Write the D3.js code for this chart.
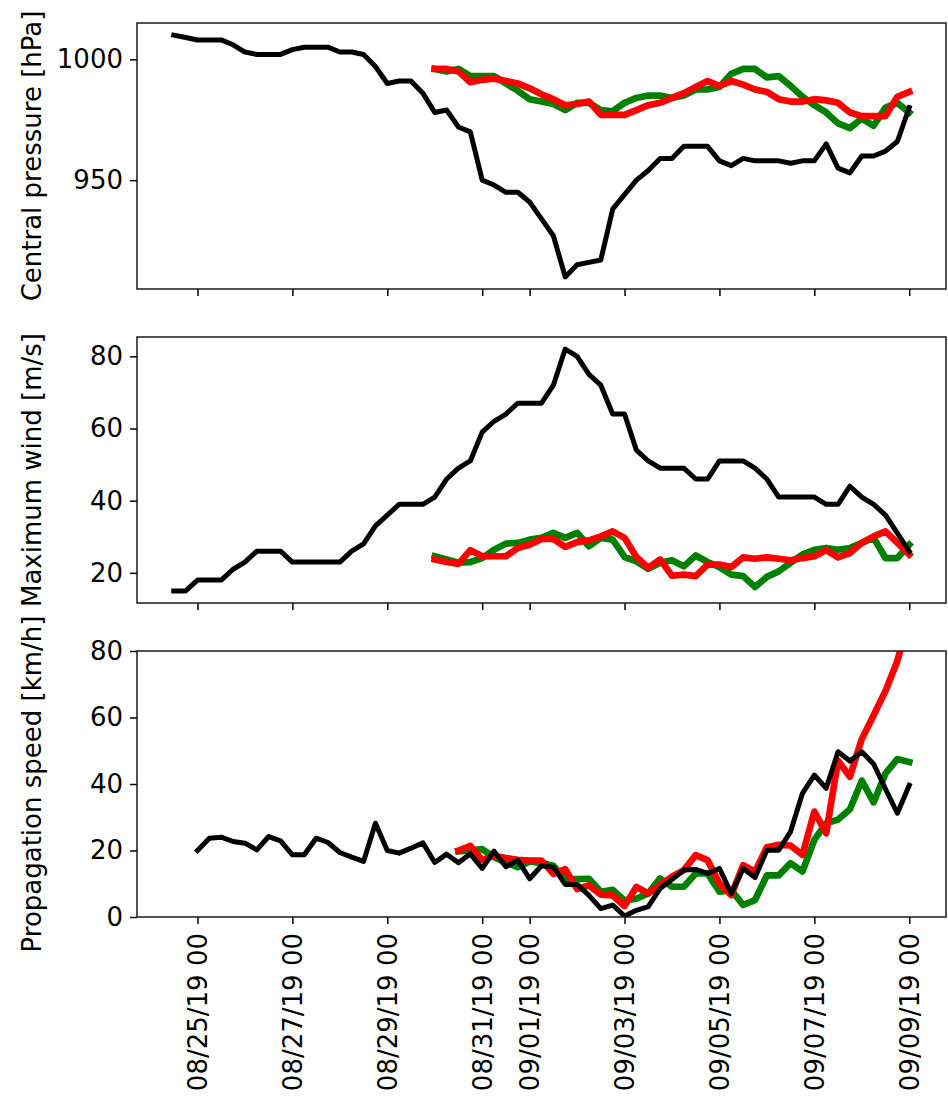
<!DOCTYPE html>
<html>
<head>
<meta charset="utf-8">
<script src="https://cdn.jsdelivr.net/npm/d3@7/dist/d3.min.js"></script>
<style>
  body { margin: 0; background: #fff; }
  text { font-family: "DejaVu Sans", sans-serif; }
</style>
</head>
<body>
<script>
// ---------------- data (6-hourly) ----------------
// observed track starts 08/24 12 UTC, both forecasts start 08/30 00 UTC
var obsStart = "2019-08-24 12:00";
var fcStart = "2019-08-30 00:00";
var obsSpeedStart = "2019-08-25 00:00";
var fcSpeedStart = "2019-08-30 12:00";

var obsPressure = [1010, 1009, 1008, 1008, 1008, 1006, 1003, 1002, 1002, 1002, 1004, 1005, 1005, 1005, 1003, 1003,
    1002, 997, 990, 991, 991, 986, 978, 979, 972, 970, 950, 948, 945, 945, 941, 934, 927, 910, 915, 916, 917, 938,
    944, 950, 954, 959, 959, 964, 964, 964, 958, 956, 959, 958, 958, 958, 957, 958, 958, 965, 955, 953, 960, 960,
    962, 966, 980];
var greenPressure = [996, 995, 996, 993, 993, 993, 990, 987, 983.5, 982.5, 981.5, 979, 982, 982, 979, 978.5, 982,
    984, 985, 985, 984, 985, 987.5, 987.5, 988.5, 994, 996, 996, 992.5, 993, 989, 984.5, 981, 978, 973.5, 971.5,
    975.5, 972.5, 980, 982, 978];
var redPressure = [996, 996, 995, 990.5, 991.5, 992, 991, 990, 988, 985.5, 983.5, 981, 981.5, 982.5, 977, 977, 977,
    979, 981, 982, 984, 986, 988.5, 991, 989, 991, 989.5, 987.5, 986.5, 983.5, 982.5, 982.5, 983.5, 983, 982, 978,
    976.5, 976.5, 976.5, 984.5, 986.5];

var obsWind = [15, 15, 18, 18, 18, 21, 23, 26, 26, 26, 23, 23, 23, 23, 23, 26, 28, 33, 36, 39, 39, 39, 41, 46, 49,
    51, 59, 62, 64, 67, 67, 67, 72, 82, 80, 75, 72, 64, 64, 54, 51, 49, 49, 49, 46, 46, 51, 51, 51, 49, 46, 41, 41,
    41, 41, 39, 39, 44, 41, 39, 36, 31, 26];
var greenWind = [24.6, 23.7, 22.8, 23, 24.1, 26.4, 28.1, 28.3, 29.2, 29.7, 31.1, 29.7, 31.1, 27.4, 29.7, 29.2,
    24.4, 23.2, 21.1, 22.8, 23.5, 21.8, 24.8, 23, 21.6, 19.5, 19.1, 16.1, 18.9, 20.4, 22.8, 25.1, 26.4, 26.9, 26.4,
    26.9, 28.3, 29.7, 24.1, 24.1, 27.8];
var redWind = [23.7, 23, 22.5, 26.3, 24.6, 24.6, 24.6, 26.9, 27.8, 29.4, 29.4, 27.2, 28.5, 29, 30.1, 31.5, 29.7,
    24.4, 21.4, 23.7, 19.2, 19.5, 19.1, 22.3, 22.3, 21.6, 24.3, 23.9, 24.3, 23.9, 23.5, 24.1, 24.6, 26.3, 24.3,
    25.5, 28.3, 30.1, 31.5, 28.3, 25.1];

var obsSpeed = [20, 23.7, 24, 22.7, 22.2, 20.2, 24.2, 22.9, 18.7, 18.7, 23.7, 22.4, 19.4, 18, 16.7, 28.2, 20, 19.2,
    20.7, 22.3, 16.4, 18.9, 16.3, 19, 14.6, 19.8, 15.1, 17.1, 11.5, 15.4, 15, 9.8, 9.8, 6.5, 2.5, 3.6, 0.3, 2, 3.1,
    8.6, 11.3, 14.1, 14.3, 13.1, 14.6, 7.1, 14.6, 11.9, 20.1, 20.1, 25.7, 37.2, 42.7, 38.7, 49.7, 46.9, 49.7, 46,
    38.5, 31.2, 39.6];
var greenSpeed = [19.7, 20, 20.4, 18, 16.4, 15, 16.7, 16.2, 15.4, 11.4, 11.4, 11.5, 7.6, 8.2, 5, 5.5, 7.1, 11.6,
    9.1, 9.1, 13.1, 13.1, 7.6, 8.1, 3.6, 5.1, 12.5, 12.5, 16.2, 13.7, 23.2, 28.2, 29.3, 32.4, 41, 34.5, 43.2, 47.5,
    46.6];
var redSpeed = [20, 21.4, 17.2, 18.4, 17.7, 17.2, 17, 17, 13, 14.4, 8.4, 9.5, 6.7, 6.5, 3.3, 9, 7.1, 9.6, 12.1,
    14.1, 18.6, 17.1, 10.1, 6.6, 15.6, 13.6, 21, 21.7, 21.5, 18.7, 31.7, 25.2, 47, 42.2, 53.5, 60.7, 68, 77, 90];

var tickDays = ["2019-08-25", "2019-08-27", "2019-08-29", "2019-08-31", "2019-09-01", "2019-09-03",
    "2019-09-05", "2019-09-07", "2019-09-09"];
var pressureTicks = [950, 1000];
var windTicks = [20, 40, 60, 80];
var speedTicks = [0, 20, 40, 60, 80];

// ---------------- layout ----------------
var width = 948, height = 1100;
var plotLeft = 137, plotRight = 946;
var fontSize = 26;

var parseTime = d3.timeParse("%Y-%m-%d %H:%M");
var parseDay = d3.timeParse("%Y-%m-%d");
var fmt = d3.timeFormat("%m/%d/%y %H");

function timesFrom(start, n) {
    var t0 = parseTime(start);
    return d3.range(n).map(function (i) { return d3.timeHour.offset(t0, 6 * i); });
}

var svg = d3.select("body").append("svg").attr("width", width).attr("height", height);
svg.append("rect").attr("width", width).attr("height", height).attr("fill", "#fff");

var obsTimes = timesFrom(obsStart, obsPressure.length);
var tMin = obsTimes[0], tMax = obsTimes[obsTimes.length - 1];
var pad = (tMax - tMin) * 0.05;   // matplotlib style 5% margins
var x = d3.scaleTime().domain([new Date(+tMin - pad), new Date(+tMax + pad)]).range([plotLeft, plotRight]);

function padded(lo, hi) { var p = (hi - lo) * 0.05; return [lo - p, hi + p]; }

function panel(id, top, bottom, yDomain, yTicks, label, series, showDates) {
    var y = d3.scaleLinear().domain(yDomain).range([bottom, top]);
    var g = svg.append("g").attr("class", "panel " + id);

    g.append("clipPath").attr("id", "clip-" + id)
        .append("rect").attr("x", plotLeft).attr("y", top)
        .attr("width", plotRight - plotLeft).attr("height", bottom - top);

    var line = d3.line()
        .x(function (d) { return x(d[0]); })
        .y(function (d) { return y(d[1]); });

    series.forEach(function (s) {
        var times = timesFrom(s.start, s.values.length);
        g.append("path")
            .datum(s.values.map(function (v, i) { return [times[i], v]; }))
            .attr("clip-path", "url(#clip-" + id + ")")
            .attr("fill", "none")
            .attr("stroke", s.color)
            .attr("stroke-width", s.w)
            .attr("stroke-linejoin", "round")
            .attr("stroke-linecap", "square")
            .attr("d", line);
    });

    // y axis
    var yAxis = d3.axisLeft(y).tickValues(yTicks).tickSize(7).tickPadding(7).tickFormat(d3.format("d"));
    var ya = g.append("g").attr("transform", "translate(" + plotLeft + ",0)").call(yAxis);
    ya.select(".domain").remove();
    ya.selectAll("line").attr("stroke", "#000").attr("stroke-width", 1.5);
    ya.selectAll("text").attr("fill", "#000").style("font-size", fontSize + "px")
        .style("font-family", "DejaVu Sans");

    // x axis (ticks on every panel, labels only on the bottom one)
    var xAxis = d3.axisBottom(x).tickValues(tickDays.map(parseDay)).tickSize(7)
        .tickFormat(showDates ? fmt : function () { return ""; });
    var xa = g.append("g").attr("transform", "translate(0," + bottom + ")").call(xAxis);
    xa.select(".domain").remove();
    xa.selectAll("line").attr("stroke", "#000").attr("stroke-width", 1.5);
    xa.selectAll("text")
        .attr("fill", "#000")
        .style("font-size", fontSize + "px")
        .style("font-family", "DejaVu Sans")
        .attr("transform", "rotate(-90)")
        .attr("x", -16)
        .attr("y", 0)
        .attr("dy", "0.35em")
        .style("text-anchor", "end");

    // frame
    g.append("rect")
        .attr("x", plotLeft).attr("y", top)
        .attr("width", plotRight - plotLeft).attr("height", bottom - top)
        .attr("fill", "none").attr("stroke", "#1a1a1a").attr("stroke-width", 1.5);

    // y label, same size as the tick labels
    g.append("text")
        .attr("transform", "translate(41," + ((top + bottom) / 2) + ") rotate(-90)")
        .attr("text-anchor", "middle")
        .style("font-size", fontSize + "px")
        .attr("fill", "#000")
        .text(label);
}

var green = "#008000", red = "#ff0000", black = "#000000";

panel("pres", 23, 289, padded(d3.min(obsPressure), d3.max(obsPressure)), pressureTicks, "Central pressure [hPa]", [
    { start: fcStart, values: greenPressure, color: green, w: 6.7 },
    { start: fcStart, values: redPressure, color: red, w: 6.7 },
    { start: obsStart, values: obsPressure, color: black, w: 5 }
], false);

panel("wind", 337, 603, padded(d3.min(obsWind), d3.max(obsWind)), windTicks, "Maximum wind [m/s]", [
    { start: fcStart, values: greenWind, color: green, w: 6.7 },
    { start: fcStart, values: redWind, color: red, w: 6.7 },
    { start: obsStart, values: obsWind, color: black, w: 5 }
], false);

panel("speed", 651, 917, [0, 80], speedTicks, "Propagation speed [km/h]", [
    { start: fcSpeedStart, values: greenSpeed, color: green, w: 6.7 },
    { start: fcSpeedStart, values: redSpeed, color: red, w: 6.7 },
    { start: obsSpeedStart, values: obsSpeed, color: black, w: 5 }
], true);
</script>
</body>
</html>
